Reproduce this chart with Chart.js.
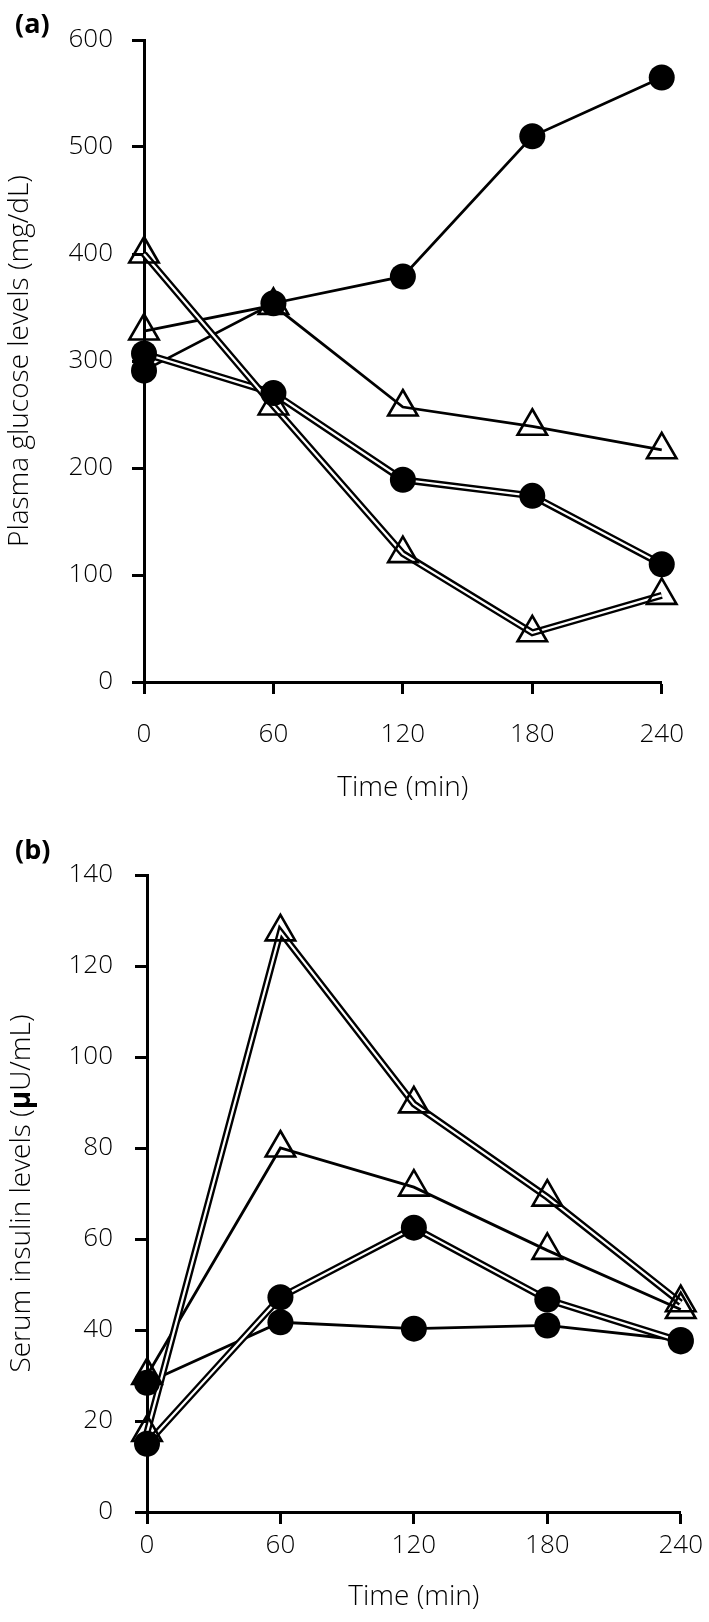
<!DOCTYPE html>
<html>
<head>
<meta charset="utf-8">
<script src="https://cdn.jsdelivr.net/npm/chart.js@4.4.1/dist/chart.umd.min.js"></script>
<style>
  html, body { margin: 0; padding: 0; background: #fff; }
  body { width: 709px; height: 1622px; position: relative; overflow: hidden; }
  .panel { position: absolute; left: 0; width: 709px; height: 811px; }
  .tag { position: absolute; font: bold 27px 'Open Sans', sans-serif; line-height: 27px; color: #000; }
</style>
</head>
<body>
<div class="panel" style="top:0"><canvas id="glucoseChart" width="709" height="811"></canvas></div>
<div class="tag" style="left:15px; top:9px">(a)</div>
<div class="panel" style="top:811px"><canvas id="insulinChart" width="709" height="811"></canvas></div>
<div class="tag" style="left:15px; top:835px">(b)</div>
<script>
const times = [0, 60, 120, 180, 240];

// (a) plasma glucose (mg/dL)
const glucoseCircleSingle = [291, 354, 379, 510, 565];
const glucoseTriangleSingle = [328, 352, 257, 239, 217];
const glucoseCircleDouble = [307, 270, 189, 174, 110];
const glucoseTriangleDouble = [400, 258, 120, 46, 81];
const glucoseTicks = [0, 100, 200, 300, 400, 500, 600];

// (b) serum insulin (μU/mL)
const insulinCircleSingle = [28.4, 41.7, 40.3, 41, 37.8];
const insulinTriangleSingle = [30, 80, 71.4, 57.5, 44.5];
const insulinCircleDouble = [15, 47.2, 62.5, 46.7, 37.5];
const insulinTriangleDouble = [17.5, 127.5, 89.7, 69.2, 46];
const insulinTicks = [0, 20, 40, 60, 80, 100, 120, 140];

const fontFamily = "'Open Sans', sans-serif";
const tickFont = { family: fontFamily, size: 26, weight: '300' };
const titleFont = { family: fontFamily, size: 28, weight: '300' };

// one series -> black line (+ white inner line for the double ones) + markers on top
function seriesDatasets(values, marker, double, k) {
  const pts = times.map((t, i) => ({ x: t, y: values[i] }));
  const sets = [{
    data: pts, borderColor: '#000', borderWidth: double ? 7 : 2.8,
    pointRadius: 0, tension: 0, clip: false, order: 100 - 2 * k
  }];
  if (double) {
    sets.push({
      data: pts, borderColor: '#fff', borderWidth: 2.2,
      pointRadius: 0, tension: 0, clip: false, order: 99 - 2 * k
    });
  }
  sets.push({
    data: pts, showLine: false, clip: false,
    pointStyle: marker,
    pointRadius: marker === 'circle' ? 13 : 17,
    backgroundColor: marker === 'circle' ? '#000' : 'rgba(0,0,0,0)',
    borderColor: '#000',
    borderWidth: marker === 'circle' ? 0 : 2.6,
    order: marker === 'circle' ? 1 : 0
  });
  return sets;
}

// y title with mixed weights (bold μ), drawn rotated like the axis title
const mixedTitle = {
  id: 'mixedTitle',
  afterDraw(chart, args, opts) {
    if (!opts.parts) return;
    const ctx = chart.ctx;
    const area = chart.chartArea;
    const fonts = opts.parts.map(p => `${p[1] ? 'bold' : '300'} ${titleFont.size}px ${fontFamily}`);
    let total = 0;
    const widths = opts.parts.map((p, i) => { ctx.font = fonts[i]; const w = ctx.measureText(p[0]).width; total += w; return w; });
    ctx.save();
    ctx.translate(opts.x, (area.top + area.bottom) / 2);
    ctx.rotate(-Math.PI / 2);
    ctx.fillStyle = '#000';
    ctx.textBaseline = 'middle';
    ctx.textAlign = 'left';
    let x = -total / 2;
    opts.parts.forEach((p, i) => { ctx.font = fonts[i]; ctx.fillText(p[0], x, 0); x += widths[i]; });
    ctx.restore();
  }
};

function makeOptions(cfg) {
  return {
    responsive: false,
    animation: false,
    events: [],
    layout: { padding: { left: 0, right: cfg.right, top: cfg.top, bottom: 0 } },
    plugins: {
      legend: { display: false }, tooltip: { enabled: false },
      mixedTitle: cfg.mixed || {}
    },
    scales: {
      x: {
        type: 'linear', min: 0, max: 240,
        afterBuildTicks: s => { s.ticks = times.map(v => ({ value: v })); },
        grid: { drawOnChartArea: false, tickLength: 12, tickWidth: 3, tickColor: '#000' },
        border: { color: '#000', width: 3 },
        ticks: { color: '#000', font: tickFont, padding: cfg.xPad, maxRotation: 0 },
        title: { display: true, text: 'Time (min)', color: '#000', font: titleFont,
                 padding: { top: 0, bottom: cfg.xTitlePad } },
        afterFit: s => { s.height = cfg.xHeight; }
      },
      y: {
        type: 'linear', min: cfg.yTicks[0], max: cfg.yTicks[cfg.yTicks.length - 1],
        afterBuildTicks: s => { s.ticks = cfg.yTicks.map(v => ({ value: v })); },
        grid: { drawOnChartArea: false, tickLength: 12, tickWidth: 3, tickColor: '#000' },
        border: { color: '#000', width: 3 },
        ticks: { color: '#000', font: tickFont, padding: cfg.yPad },
        title: { display: !!cfg.yTitle, text: cfg.yTitle || '', color: '#000', font: titleFont,
                 padding: { top: cfg.yTitlePad, bottom: 0 } },
        afterFit: s => { s.width = cfg.yWidth; }
      }
    }
  };
}

new Chart(document.getElementById('glucoseChart'), {
  type: 'line',
  data: {
    datasets: [].concat(
      seriesDatasets(glucoseCircleSingle, 'circle', false, 0),
      seriesDatasets(glucoseTriangleSingle, 'triangle', false, 1),
      seriesDatasets(glucoseCircleDouble, 'circle', true, 2),
      seriesDatasets(glucoseTriangleDouble, 'triangle', true, 3)
    )
  },
  options: makeOptions({
    top: 40, right: 32, xHeight: 129, yWidth: 144,
    xPad: 25, xTitlePad: 6, yPad: 19, yTitlePad: 3,
    yTicks: glucoseTicks, yTitle: 'Plasma glucose levels (mg/dL)'
  }),
  plugins: [mixedTitle]
});

new Chart(document.getElementById('insulinChart'), {
  type: 'line',
  data: {
    datasets: [].concat(
      seriesDatasets(insulinCircleSingle, 'circle', false, 0),
      seriesDatasets(insulinTriangleSingle, 'triangle', false, 1),
      seriesDatasets(insulinCircleDouble, 'circle', true, 2),
      seriesDatasets(insulinTriangleDouble, 'triangle', true, 3)
    )
  },
  options: makeOptions({
    top: 64, right: 26, xHeight: 110, yWidth: 147,
    xPad: 6, xTitlePad: 8, yPad: 22, yTitlePad: 5,
    yTicks: insulinTicks,
    mixed: { x: 22, parts: [['Serum insulin levels (', false], ['μ', true], ['U/mL)', false]] }
  }),
  plugins: [mixedTitle]
});
</script>
</body>
</html>
